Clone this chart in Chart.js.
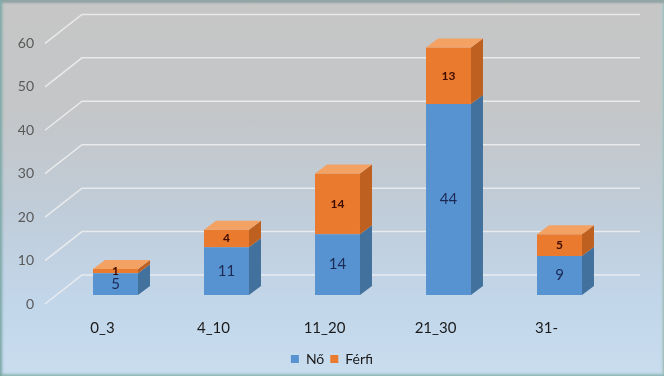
<!DOCTYPE html>
<html>
<head>
<meta charset="utf-8">
<script src="https://cdn.jsdelivr.net/npm/chart.js@4.4.0/dist/chart.umd.min.js"></script>
<style>
html, body { margin: 0; padding: 0; }
#wrap {
    position: relative; width: 664px; height: 376px;
    background: linear-gradient(to bottom, #c6c6c6 0%, #c4c6c8 30%, #c0ccd8 55%, #c2d6ea 80%, #c9ddef 100%);
    box-shadow: inset 2px 0 3px #7eaaa9, inset 0 3px 2px #98a4a5, inset 0 -2px 3px #9cc2c2, inset -2px 0 3px #b4d0d0;
}
canvas { display: block; }
</style>
</head>
<body>
<div id="wrap"><canvas id="chart" width="664" height="376"></canvas></div>
<script>
// Data
var categories = ["0_3", "4_10", "11_20", "21_30", "31-"];
var noValues = [5, 11, 14, 44, 9];
var ferfiValues = [1, 4, 14, 13, 5];

var depthX = 12, depthY = -9;
var sideColors = ['#41719c', '#bd6020'];
var topColors = ['#7fb0e0', '#f4a263'];
var labelColors = ['#1c2a55', '#3f0c00'];
var labelFonts = ['15px Lato', 'bold 12px Lato'];

// fake 3d: back wall grid, side and top faces, value labels
var threeD = {
    id: 'threeD',
    beforeDatasetsDraw: function(chart) {
        var ctx = chart.ctx, y = chart.scales.y;
        ctx.save();
        ctx.strokeStyle = 'rgba(240,240,240,0.85)';
        ctx.lineWidth = 1.5;
        y.ticks.forEach(function(t) {
            var py = y.getPixelForValue(t.value);
            ctx.beginPath();
            ctx.moveTo(45, py + 9);
            ctx.lineTo(82, py - 20);
            ctx.lineTo(640, py - 20);
            ctx.stroke();
        });
        ctx.restore();
    },
    afterDatasetsDraw: function(chart) {
        var ctx = chart.ctx;
        var last = chart.data.datasets.length - 1;
        ctx.save();
        chart.data.datasets.forEach(function(ds, di) {
            var meta = chart.getDatasetMeta(di);
            meta.data.forEach(function(el) {
                var top = Math.min(el.y, el.base), bottom = Math.max(el.y, el.base);
                var left = el.x - el.width / 2, right = el.x + el.width / 2;
                ctx.fillStyle = sideColors[di];
                ctx.beginPath();
                ctx.moveTo(right, top);
                ctx.lineTo(right + depthX, top + depthY);
                ctx.lineTo(right + depthX, bottom + depthY);
                ctx.lineTo(right, bottom);
                ctx.closePath();
                ctx.fill();
                if (di === last) {
                    ctx.fillStyle = topColors[di];
                    ctx.beginPath();
                    ctx.moveTo(left, top);
                    ctx.lineTo(left + depthX, top + depthY);
                    ctx.lineTo(right + depthX, top + depthY);
                    ctx.lineTo(right, top);
                    ctx.closePath();
                    ctx.fill();
                }
            });
        });
        ctx.textAlign = 'center';
        ctx.textBaseline = 'middle';
        chart.data.datasets.forEach(function(ds, di) {
            var meta = chart.getDatasetMeta(di);
            ctx.fillStyle = labelColors[di];
            ctx.font = labelFonts[di];
            meta.data.forEach(function(el, i) {
                ctx.fillText(ds.data[i], el.x, (el.y + el.base) / 2);
            });
        });
        ctx.restore();
    }
};

// slight horizontal shading on the front faces
function frontFill(base, light) {
    return function(c) {
        var area = c.chart.chartArea;
        var el = c.element;
        if (!area || !el || !el.width) return base;
        var g = c.chart.ctx.createLinearGradient(el.x - el.width / 2, 0, el.x + el.width / 2, 0);
        g.addColorStop(0, base);
        g.addColorStop(0.45, light);
        g.addColorStop(1, base);
        return g;
    };
}

var ctx = document.getElementById('chart');

var config = {
    type: 'bar',
    data: {
        labels: categories,
        datasets: [{
            label: 'Nő',
            data: noValues,
            backgroundColor: frontFill('#5793d0', '#64a3de'),
            borderColor: '#41719c',
            borderWidth: 0
        }, {
            label: 'Férfi',
            data: ferfiValues,
            backgroundColor: frontFill('#ea7a2e', '#f38b3f'),
            borderColor: '#bd6020',
            borderWidth: 0
        }]
    },
    options: {
        responsive: false,
        animation: false,
        layout: { padding: { left: 0, right: 0, top: 33, bottom: 0 } },
        datasets: { bar: { barPercentage: 0.405, categoryPercentage: 1 } },
        scales: {
            x: {
                stacked: true,
                grid: { display: false, drawTicks: false },
                border: { display: false },
                ticks: { padding: 24, labelOffset: -13, color: '#1a1a1a', font: { family: 'Lato', size: 15 } },
                afterFit: function(s) { s.height = 51; }
            },
            y: {
                stacked: true,
                min: 0, max: 60,
                grid: { display: false, drawTicks: false },
                border: { display: false },
                ticks: { stepSize: 10, padding: 26, labelOffset: 9, color: '#595959', font: { family: 'Lato', size: 14 } },
                afterFit: function(s) { s.width = 60; }
            },
            yRight: {
                position: 'right',
                grid: { display: false, drawTicks: false },
                border: { display: false },
                ticks: { display: false },
                afterFit: function(s) { s.width = 49; }
            }
        },
        plugins: {
            legend: {
                position: 'bottom',
                labels: { boxWidth: 8, boxHeight: 8, padding: 6, color: '#1a1a1a', font: { family: 'Lato', size: 14 } }
            },
            tooltip: { enabled: false }
        }
    },
    plugins: [threeD]
};

var barChart = new Chart(ctx, config);
</script>
</body>
</html>
